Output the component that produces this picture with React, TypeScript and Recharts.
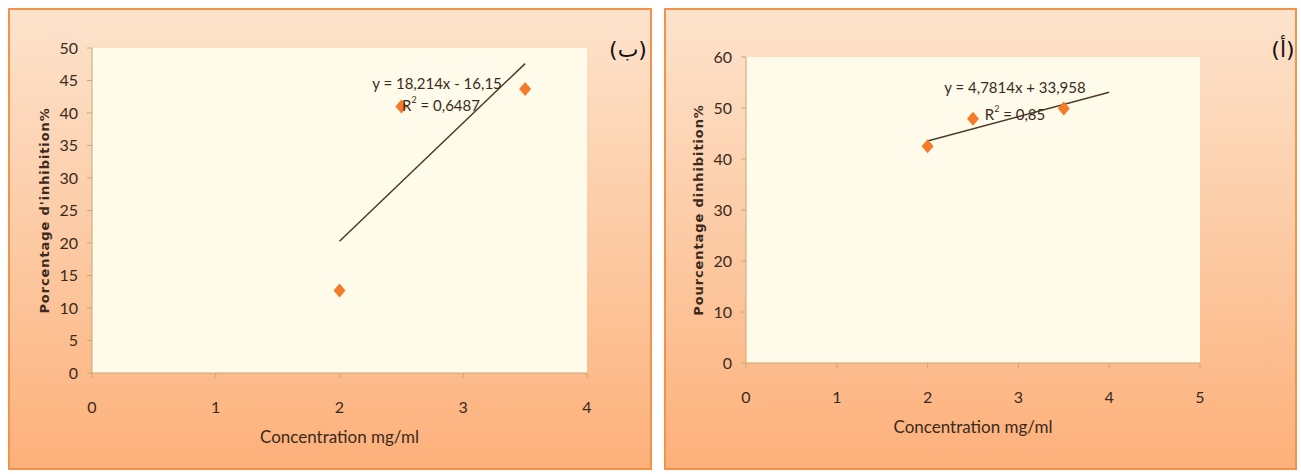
import {
  CartesianGrid,
  Label,
  Scatter,
  ScatterChart,
  XAxis,
  YAxis,
} from "recharts";

// Panel (ب): measured inhibition points and the fitted trend line
const concB = [2, 2.5, 3.5];
const inhibB = [12.7, 41, 43.7];
const trendBx = [2, 3.5];
const trendBy = [20.28, 47.6];
const ticksBx = [0, 1, 2, 3, 4];
const ticksBy = [0, 5, 10, 15, 20, 25, 30, 35, 40, 45, 50];

// Panel (أ)
const concA = [2, 2.5, 3.5];
const inhibA = [42.5, 47.9, 49.9];
const trendAx = [2, 4];
const trendAy = [43.52, 53.08];
const ticksAx = [0, 1, 2, 3, 4, 5];
const ticksAy = [0, 10, 20, 30, 40, 50, 60];

const MARKER = "#f47b29";
const TREND = "#4a3a28";
const AXIS = "#c9a873";
const INK = "#3b2a1c";
const PLOT_BG = "#fffbea";
const TICK_FONT = "Lato, 'Open Sans', sans-serif";

const toPoints = (xs: number[], ys: number[]) =>
  xs.map((x, i) => ({ x, y: ys[i] }));

const noDot = () => <g />;

// Excel-style diamond, a bit wider than d3's symbolDiamond
const Diamond = (props: any) => {
  const { cx, cy } = props;
  if (cx == null || cy == null) return <g />;
  return (
    <polygon
      points={`${cx},${cy - 7} ${cx + 6},${cy} ${cx},${cy + 7} ${cx - 6},${cy}`}
      fill={MARKER}
    />
  );
};

type PanelProps = {
  left: number;
  width: number;
  margin: { top: number; right: number; bottom: number; left: number };
  points: { x: number; y: number }[];
  trend: { x: number; y: number }[];
  xTicks: number[];
  yTicks: number[];
  yTitle: string;
  tag: string;
  tagPos: { x: number; y: number };
  eq: string;
  eqPos: { x: number; y: number };
  r2: string;
  r2Pos: { x: number; y: number };
};

function Panel({
  left,
  width,
  margin,
  points,
  trend,
  xTicks,
  yTicks,
  yTitle,
  tag,
  tagPos,
  eq,
  eqPos,
  r2,
  r2Pos,
}: PanelProps) {
  const height = 462;
  const tickStyle = { fontSize: 16, fill: INK, fontFamily: TICK_FONT };
  return (
    <div
      style={{
        position: "absolute",
        left,
        top: 8,
        width,
        height,
        boxSizing: "border-box",
        border: "2px solid #f5924a",
        background: "linear-gradient(180deg, #fde3cc 0%, #fcc8a0 55%, #fdb07a 100%)",
      }}
    >
      <ScatterChart
        width={width - 4}
        height={height - 4}
        margin={margin}
        style={{ position: "absolute", left: 0, top: 0 }}
      >
        <CartesianGrid horizontal={false} vertical={false} fill={PLOT_BG} />
        <XAxis
          type="number"
          dataKey="x"
          domain={[xTicks[0], xTicks[xTicks.length - 1]]}
          ticks={xTicks}
          allowDataOverflow
          stroke={AXIS}
          tickSize={5}
          tickMargin={24}
          height={30}
          tick={tickStyle}
        >
          <Label
            value="Concentration mg/ml"
            position="bottom"
            offset={28}
            style={{ fontSize: 17, fill: INK, fontFamily: TICK_FONT }}
          />
        </XAxis>
        <YAxis
          type="number"
          dataKey="y"
          domain={[yTicks[0], yTicks[yTicks.length - 1]]}
          ticks={yTicks}
          allowDataOverflow
          stroke={AXIS}
          tickSize={5}
          tickMargin={9}
          width={40}
          tick={tickStyle}
        >
          <Label
            value={yTitle}
            angle={-90}
            position="insideLeft"
            offset={-8}
            style={{
              textAnchor: "middle",
              fontSize: 13,
              fontWeight: "bold",
              letterSpacing: 0.9,
              fill: INK,
              fontFamily: "'DejaVu Sans', sans-serif",
            }}
          />
        </YAxis>
        <Scatter
          data={trend}
          line={{ stroke: TREND, strokeWidth: 1.5 }}
          shape={noDot}
          isAnimationActive={false}
        />
        <Scatter data={points} shape={Diamond} isAnimationActive={false} />
      </ScatterChart>
      <svg
        width={width - 4}
        height={height - 4}
        style={{ position: "absolute", left: 0, top: 0, pointerEvents: "none" }}
      >
        <text
          x={eqPos.x}
          y={eqPos.y}
          textAnchor="middle"
          dominantBaseline="central"
          fontFamily={TICK_FONT}
          fontSize={15}
          fill={INK}
        >
          {eq}
        </text>
        <text
          x={r2Pos.x}
          y={r2Pos.y}
          textAnchor="middle"
          dominantBaseline="central"
          fontFamily={TICK_FONT}
          fontSize={15}
          fill={INK}
        >
          R
          <tspan fontSize={9} dy={-6}>
            2
          </tspan>
          <tspan dy={6}>{" = " + r2}</tspan>
        </text>
        <text
          x={tagPos.x}
          y={tagPos.y}
          textAnchor="middle"
          dominantBaseline="central"
          fontFamily="'DejaVu Sans', sans-serif"
          fontSize={22}
          fill="#111"
        >
          {tag}
        </text>
      </svg>
    </div>
  );
}

export default function App() {
  return (
    <div
      style={{
        position: "absolute",
        left: 0,
        top: 0,
        width: 1301,
        height: 474,
        background: "#ffffff",
        overflow: "hidden",
      }}
    >
      <Panel
        left={8}
        width={644}
        margin={{ top: 38, right: 63, bottom: 65, left: 42 }}
        points={toPoints(concB, inhibB)}
        trend={toPoints(trendBx, trendBy)}
        xTicks={ticksBx}
        yTicks={ticksBy}
        yTitle="Porcentage d'inhibition%"
        tag="(ب)"
        tagPos={{ x: 618, y: 39 }}
        eq="y = 18,214x - 16,15"
        eqPos={{ x: 427, y: 73 }}
        r2="0,6487"
        r2Pos={{ x: 431, y: 95 }}
      />
      <Panel
        left={664}
        width={633}
        margin={{ top: 47, right: 95, bottom: 75, left: 40 }}
        points={toPoints(concA, inhibA)}
        trend={toPoints(trendAx, trendAy)}
        xTicks={ticksAx}
        yTicks={ticksAy}
        yTitle="Pourcentage dinhibition%"
        tag="(أ)"
        tagPos={{ x: 617, y: 39 }}
        eq="y = 4,7814x + 33,958"
        eqPos={{ x: 349, y: 77 }}
        r2="0,85"
        r2Pos={{ x: 349, y: 104 }}
      />
    </div>
  );
}
